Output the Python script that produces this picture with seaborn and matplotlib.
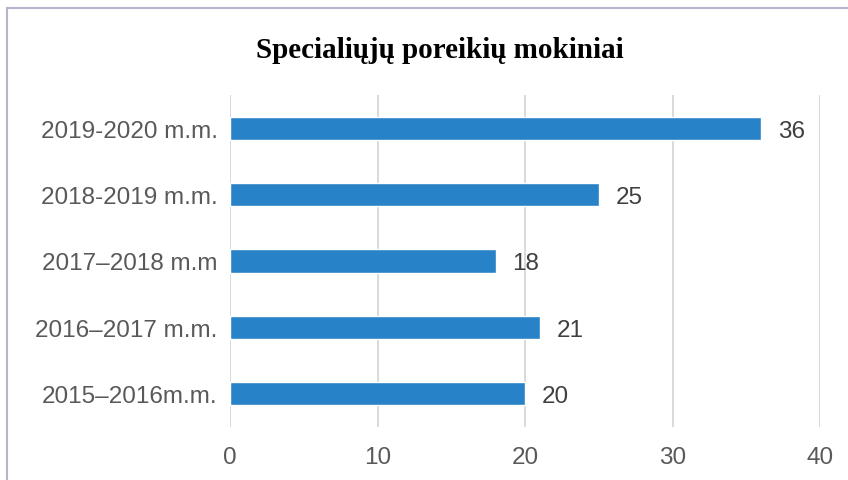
import matplotlib
matplotlib.use("Agg")
import matplotlib.pyplot as plt
import matplotlib.patches as patches
import pandas as pd
import seaborn as sns

# Data
years = ["2019-2020 m.m.", "2018-2019 m.m.", "2017\u20132018 m.m",
         "2016\u20132017 m.m.", "2015\u20132016m.m."]
students = [36, 25, 18, 21, 20]
x_ticks = [0, 10, 20, 30, 40]

df = pd.DataFrame({"year": years, "students": students})

sns.set_style("white")
plt.rcParams["font.family"] = ["Liberation Sans", "DejaVu Sans"]

fig = plt.figure(figsize=(8.48, 4.81), dpi=100)
ax = fig.add_axes([230 / 848, 1 - 428 / 481, 590 / 848, 332 / 481])

sns.barplot(data=df, x="students", y="year", order=years, color="#2882C8",
            width=0.35, saturation=1, ax=ax, zorder=3)

ax.set_xlim(0, 40)
ax.set_ylim(4.5, -0.5)
ax.set_xticks(x_ticks)
ax.xaxis.grid(True, color="#D9D9D9", linewidth=1.4, zorder=0)
ax.yaxis.grid(False)
for s in ax.spines.values():
    s.set_visible(False)
ax.tick_params(axis="x", length=0, pad=14, labelsize=17.5, labelcolor="#595959")
ax.tick_params(axis="y", length=0, pad=9, labelsize=17.5, labelcolor="#595959")
ax.set_xlabel("")
ax.set_ylabel("")

labels = ax.bar_label(ax.containers[0], padding=12, fontsize=17.5, color="#404040")
for t in labels:
    t.set_va("center_baseline")

fig.text(440 / 848, 1 - 50 / 481, "Specialiųjų poreikių mokiniai",
         ha="center", va="center", fontsize=21, fontweight="bold",
         family=["Liberation Serif", "DejaVu Serif"], color="black")

# Frame around the chart (only left and top edges visible)
fig.add_artist(patches.Rectangle((7 / 848, -0.2), 1.5, 1.2 - 9 / 481,
                                 transform=fig.transFigure, fill=False,
                                 edgecolor="#B4B4CC", linewidth=1.5))

fig.savefig("out.png", dpi=100)
